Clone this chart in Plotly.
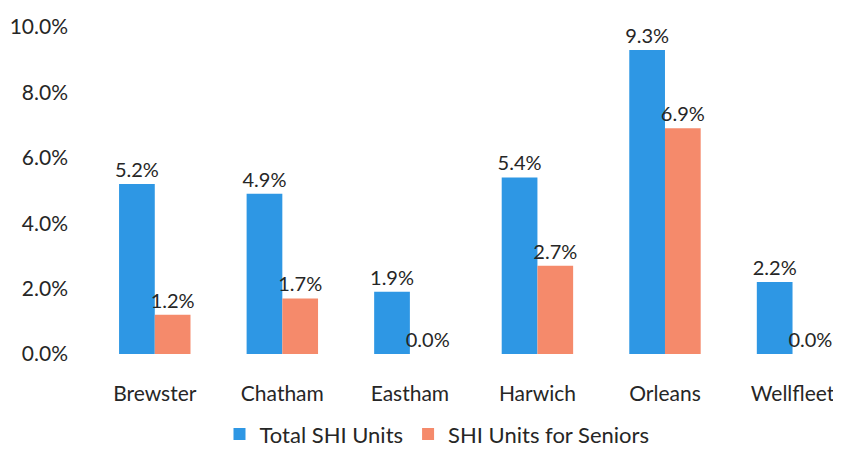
import plotly.graph_objects as go

towns = ["Brewster", "Chatham", "Eastham", "Harwich", "Orleans", "Wellfleet"]
total_shi = [5.2, 4.9, 1.9, 5.4, 9.3, 2.2]
senior_shi = [1.2, 1.7, 0.0, 2.7, 6.9, 0.0]
y_ticks = [0, 2, 4, 6, 8, 10]
y_tick_labels = ["0.0%", "2.0%", "4.0%", "6.0%", "8.0%", "10.0%"]

FONT = "Lato, Open Sans, sans-serif"
TXT = "#262626"

fig = go.Figure()
fig.add_trace(go.Bar(
    x=towns, y=total_shi, name="Total SHI Units",
    marker=dict(color="#2E97E4", line=dict(width=0)),
    texttemplate="%{y:.1f}%", textposition="outside", constraintext="none",
    textfont=dict(family=FONT, size=20, color=TXT), cliponaxis=False,
))
fig.add_trace(go.Bar(
    x=towns, y=senior_shi, name="SHI Units for Seniors",
    marker=dict(color="#F58A6B", line=dict(width=0)),
    texttemplate="%{y:.1f}%", textposition="outside", constraintext="none",
    textfont=dict(family=FONT, size=20, color=TXT), cliponaxis=False,
))

fig.update_layout(
    width=833, height=444,
    margin=dict(l=83, r=0, t=19, b=98),
    paper_bgcolor="white", plot_bgcolor="white",
    barmode="group", bargap=0.44, bargroupgap=0,
    font=dict(family=FONT, size=20, color=TXT),
    showlegend=True,
    legend=dict(
        orientation="h", xref="container", yref="container",
        x=0.515, xanchor="center", y=0.04, yanchor="middle",
        font=dict(family=FONT, size=22, color=TXT),
        itemwidth=30, traceorder="normal",
    ),
    xaxis=dict(
        range=[-0.5, 5.38], showgrid=False, showline=False, zeroline=False,
        ticks="", ticklabelstandoff=25,
        tickfont=dict(family=FONT, size=21, color=TXT),
    ),
    yaxis=dict(
        range=[0, 10], tickvals=y_ticks, ticktext=y_tick_labels,
        showgrid=False, showline=False, zeroline=False, ticks="",
        ticklabelstandoff=22,
        tickfont=dict(family=FONT, size=21, color=TXT),
    ),
)

fig.write_html("out.html")
